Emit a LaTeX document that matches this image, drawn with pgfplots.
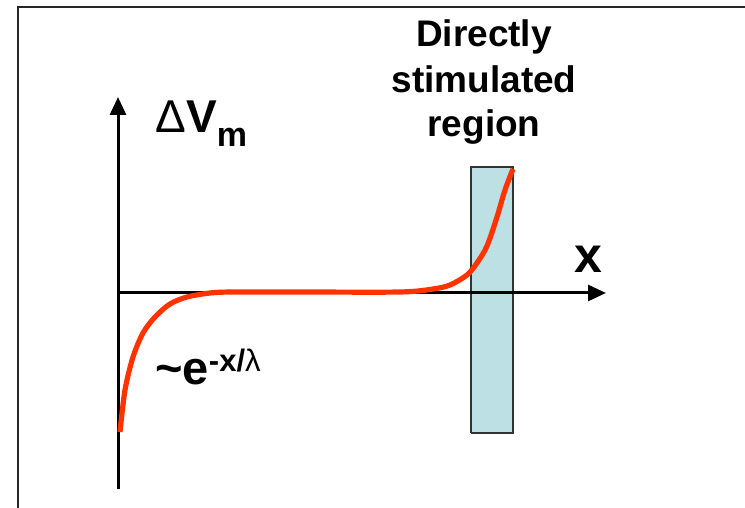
\documentclass[border=0pt]{standalone}
\usepackage{pgfplots}
\pgfplotsset{compat=1.18}
\usetikzlibrary{arrows.meta}
\usepackage{fontspec}
\setmainfont{Liberation Sans}
\definecolor{curvered}{HTML}{FF3300}
\definecolor{regionfill}{HTML}{BCE0E3}
\begin{document}
\begin{tikzpicture}
\begin{axis}[
  scale only axis, width=372.5pt, height=254pt,
  xmin=-118, xmax=627, ymin=-215, ymax=293,
  axis lines=none, clip=false,
]
\coordinate (SW) at (axis cs:-118,-215);
\coordinate (NE) at (axis cs:627,293);
% frame
\draw[line width=1pt, black!85] (axis cs:-100,-230) -- (axis cs:-100,286) -- (axis cs:640,286);
% stimulated region
\addplot[draw=black!80, line width=0.6pt, fill=regionfill] coordinates {(353,-140) (395,-140) (395,126) (353,126) (353,-140)};
% axes
\draw[line width=1.5pt, -{Triangle[length=9pt,width=8pt]}] (axis cs:0,-196) -- (axis cs:0,196);
\draw[line width=1.5pt, -{Triangle[length=9pt,width=8pt]}] (axis cs:0,0) -- (axis cs:488,0);
% curve
\addplot[curvered, line width=2.6pt, smooth, tension=0.5] coordinates {
(2,-139) (7,-97) (15,-64) (25,-40) (37,-24) (52,-11) (69,-4) (92,0) (115,1)
(182,1) (282,1) (315,4) (332,8) (349,18) (359,30) (369,47) (379,76) (387,103) (395,124)};
% labels
\node[anchor=base west, inner sep=0pt] at (axis cs:37,160) {\fontsize{23}{23}\selectfont Δ\textbf{V}\raisebox{-7pt}{\fontsize{17}{17}\selectfont\textbf{m}}};
\node[anchor=base, inner sep=0pt] at (axis cs:470,20) {\fontsize{25}{25}\selectfont\textbf{x}};
\node[anchor=base west, inner sep=0pt] at (axis cs:37,-92) {\fontsize{23.5}{23.5}\selectfont\textbf{\textasciitilde e}\raisebox{6.5pt}{\fontsize{15.5}{15.5}\selectfont\textbf{-x/}λ}};
\node[anchor=base, inner sep=0pt] at (axis cs:366,246) {\fontsize{18.5}{18.5}\selectfont\textbf{Directly}};
\node[anchor=base, inner sep=0pt] at (axis cs:366,200) {\fontsize{18.5}{18.5}\selectfont\textbf{stimulated}};
\node[anchor=base, inner sep=0pt] at (axis cs:366,156) {\fontsize{18.5}{18.5}\selectfont\textbf{region}};
\end{axis}
\pgfresetboundingbox
\path (SW) rectangle (NE);
\end{tikzpicture}
\end{document}
